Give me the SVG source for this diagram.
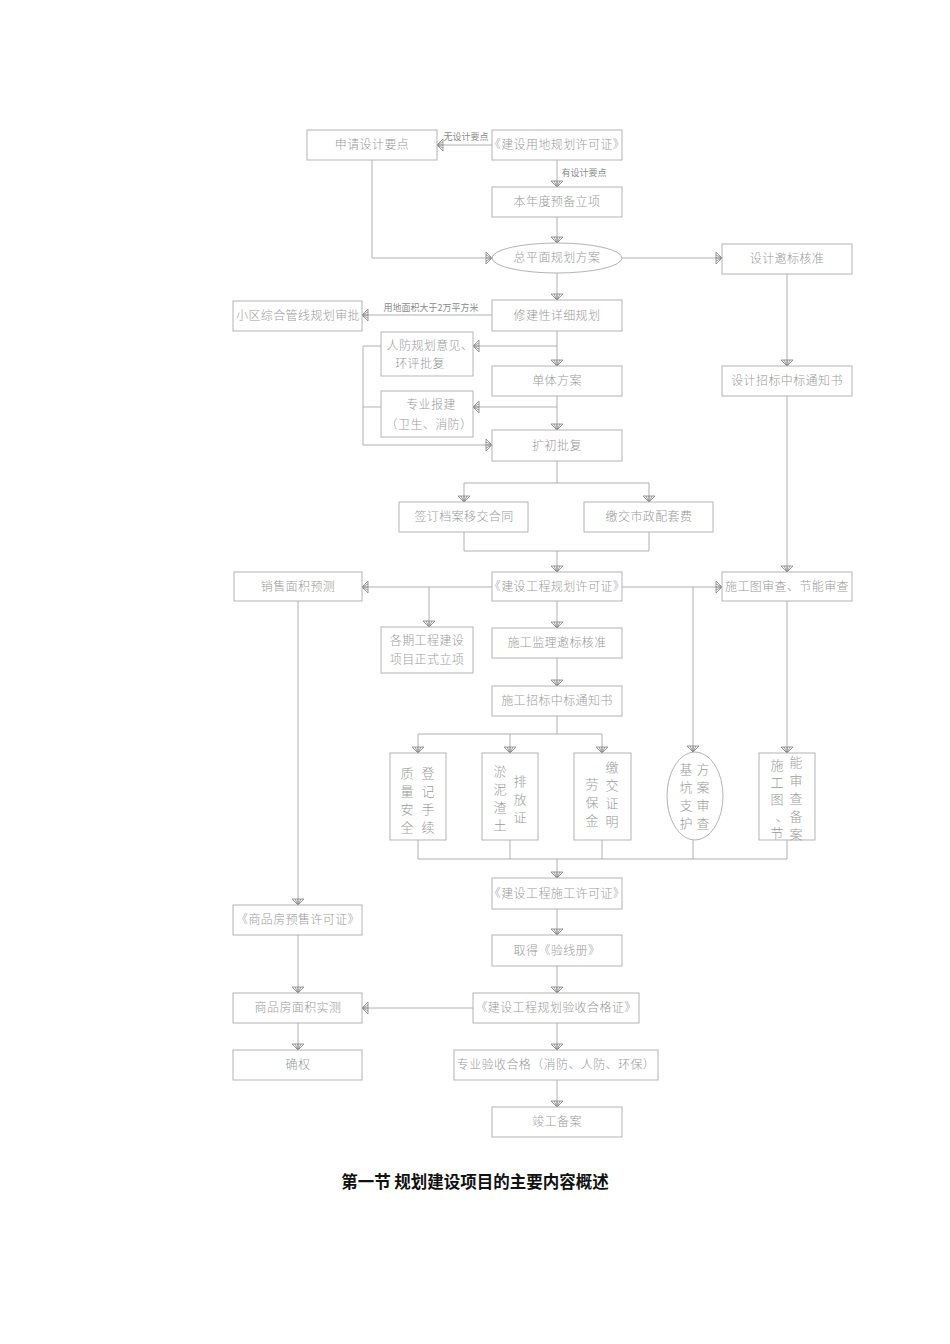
<svg xmlns="http://www.w3.org/2000/svg" width="950" height="1344" viewBox="0 0 950 1344">
<style>
.b{fill:#fff;stroke:#b4b4b4;stroke-width:1}
.t{font-family:"Noto Sans CJK SC","Liberation Sans",sans-serif;font-size:12px;letter-spacing:0.4px;fill:#9a9a9a;text-anchor:middle;font-weight:300}
.s{font-family:"Noto Sans CJK SC","Liberation Sans",sans-serif;font-size:9px;fill:#8a8a8a;text-anchor:middle}
.v{font-family:"Noto Sans CJK SC","Liberation Sans",sans-serif;font-size:13px;fill:#9a9a9a;text-anchor:middle;font-weight:300}
.c path{fill:none;stroke:#b0b0b0;stroke-width:1}
.a{marker-end:url(#ar)}
.h{font-family:"Noto Sans CJK SC","Liberation Sans",sans-serif;font-size:16.5px;font-weight:bold;fill:#111;text-anchor:middle}
</style>
<defs>
<marker id="ar" viewBox="-7 -7 8 14" refX="0" refY="0" markerWidth="8" markerHeight="14" markerUnits="userSpaceOnUse" orient="auto">
<path d="M-6,-6 L0,0 L-6,6 Z M-6,-3 L0,0 L-6,3 M-6,0 L0,0" fill="none" stroke="#808080" stroke-width="0.8"/>
</marker>
</defs>
<rect width="950" height="1344" fill="#fff"/>
<g class="c" id="connectors">
<path class="a" d="M492,145 H437"/>
<path class="a" d="M557,160 V187"/>
<path class="a" d="M557,217 V243"/>
<path class="a" d="M372,160 V258 H492"/>
<path class="a" d="M622,258 H722"/>
<path class="a" d="M557,273 V300"/>
<path class="a" d="M492,315 H362"/>
<path class="a" d="M557,331 V366"/>
<path class="a" d="M557,346 H473"/>
<path class="a" d="M557,396 V430"/>
<path class="a" d="M557,407 H473"/>
<path class="a" d="M381,346 H363 V445 H492"/>
<path d="M381,407 H363"/>
<path d="M557,461 V483 M464,483 H649"/>
<path class="a" d="M464,483 V502"/>
<path class="a" d="M649,483 V502"/>
<path d="M464,532 V551 M649,532 V551 M464,551 H649"/>
<path class="a" d="M557,551 V572"/>
<path class="a" d="M787,274 V366"/>
<path class="a" d="M787,396 V572"/>
<path class="a" d="M492,587 H362"/>
<path class="a" d="M429,587 V627"/>
<path class="a" d="M622,587 H722"/>
<path class="a" d="M693,587 V752"/>
<path class="a" d="M557,601 V628"/>
<path class="a" d="M557,658 V686"/>
<path d="M557,716 V734 M418,734 H602"/>
<path class="a" d="M418,734 V753"/>
<path class="a" d="M510,734 V753"/>
<path class="a" d="M602,734 V753"/>
<path class="a" d="M787,601 V753"/>
<path d="M418,840 V859 M510,840 V859 M602,840 V859 M693,840 V859 M787,840 V859 M418,859 H787"/>
<path class="a" d="M557,859 V878"/>
<path class="a" d="M557,909 V935"/>
<path class="a" d="M557,966 V993"/>
<path class="a" d="M298,601 V905"/>
<path class="a" d="M298,935 V993"/>
<path class="a" d="M473,1008 H362"/>
<path class="a" d="M298,1023 V1050"/>
<path class="a" d="M557,1023 V1050"/>
<path class="a" d="M557,1080 V1107"/>
<text class="s" x="466" y="140">无设计要点</text>
<text class="s" x="584" y="176">有设计要点</text>
<text class="s" x="431" y="311">用地面积大于2万平方米</text>
</g>
<g id="n1"><rect class="b" x="307" y="130" width="130" height="30"/><text class="t" x="372" y="149">申请设计要点</text></g>
<g id="n2"><rect class="b" x="492" y="130" width="130" height="30"/><text class="t" x="557" y="149">《建设用地规划许可证》</text></g>
<g id="n3"><rect class="b" x="492" y="187" width="130" height="30"/><text class="t" x="557" y="206">本年度预备立项</text></g>
<g id="n4"><ellipse class="b" cx="557" cy="258" rx="65" ry="15"/><text class="t" x="557" y="262">总平面规划方案</text></g>
<g id="n5"><rect class="b" x="722" y="244" width="130" height="30"/><text class="t" x="787" y="263">设计邀标核准</text></g>
<g id="n6"><rect class="b" x="492" y="300" width="130" height="31"/><text class="t" x="557" y="320">修建性详细规划</text></g>
<g id="n7"><rect class="b" x="233" y="301" width="129" height="30"/><text class="t" x="298" y="320">小区综合管线规划审批</text></g>
<g id="n8"><rect class="b" x="381" y="332" width="92" height="44"/><text class="t" x="430" y="350">人防规划意见、</text><text class="t" x="420" y="368">环评批复</text></g>
<g id="n9"><rect class="b" x="492" y="366" width="130" height="30"/><text class="t" x="557" y="385">单体方案</text></g>
<g id="n10"><rect class="b" x="381" y="391" width="92" height="46"/><text class="t" x="431" y="409">专业报建</text><text class="t" x="429" y="429">（卫生、消防）</text></g>
<g id="n11"><rect class="b" x="492" y="430" width="130" height="31"/><text class="t" x="557" y="450">扩初批复</text></g>
<g id="n12"><rect class="b" x="722" y="366" width="130" height="30"/><text class="t" x="787" y="385">设计招标中标通知书</text></g>
<g id="n13"><rect class="b" x="399" y="502" width="129" height="30"/><text class="t" x="464" y="521">签订档案移交合同</text></g>
<g id="n14"><rect class="b" x="584" y="502" width="129" height="30"/><text class="t" x="649" y="521">缴交市政配套费</text></g>
<g id="n15"><rect class="b" x="234" y="572" width="128" height="29"/><text class="t" x="298" y="591">销售面积预测</text></g>
<g id="n16"><rect class="b" x="492" y="572" width="130" height="29"/><text class="t" x="557" y="591">《建设工程规划许可证》</text></g>
<g id="n17"><rect class="b" x="722" y="572" width="130" height="29"/><text class="t" x="787" y="591">施工图审查、节能审查</text></g>
<g id="n18"><rect class="b" x="381" y="627" width="92" height="46"/><text class="t" x="427" y="645">各期工程建设</text><text class="t" x="427" y="664">项目正式立项</text></g>
<g id="n19"><rect class="b" x="492" y="628" width="130" height="30"/><text class="t" x="557" y="647">施工监理邀标核准</text></g>
<g id="n20"><rect class="b" x="492" y="686" width="130" height="30"/><text class="t" x="557" y="705">施工招标中标通知书</text></g>
<g id="n21"><rect class="b" x="390" y="753" width="56" height="87"/>
<text class="v" x="407" y="778">质</text><text class="v" x="407" y="796">量</text><text class="v" x="407" y="814">安</text><text class="v" x="407" y="832">全</text>
<text class="v" x="428" y="778">登</text><text class="v" x="428" y="796">记</text><text class="v" x="428" y="814">手</text><text class="v" x="428" y="832">续</text></g>
<g id="n22"><rect class="b" x="482" y="753" width="56" height="87"/>
<text class="v" x="500" y="776">淤</text><text class="v" x="500" y="794">泥</text><text class="v" x="500" y="812">渣</text><text class="v" x="500" y="830">土</text>
<text class="v" x="520" y="786">排</text><text class="v" x="520" y="804">放</text><text class="v" x="520" y="822">证</text></g>
<g id="n23"><rect class="b" x="574" y="753" width="57" height="87"/>
<text class="v" x="592" y="789">劳</text><text class="v" x="592" y="807">保</text><text class="v" x="592" y="825">金</text>
<text class="v" x="612" y="772">缴</text><text class="v" x="612" y="790">交</text><text class="v" x="612" y="808">证</text><text class="v" x="612" y="826">明</text></g>
<g id="n24"><ellipse class="b" cx="695" cy="796" rx="28" ry="44"/>
<text class="v" x="686" y="774">基</text><text class="v" x="686" y="792">坑</text><text class="v" x="686" y="810">支</text><text class="v" x="686" y="828">护</text>
<text class="v" x="703" y="774">方</text><text class="v" x="703" y="792">案</text><text class="v" x="703" y="810">审</text><text class="v" x="703" y="828">查</text></g>
<g id="n25"><rect class="b" x="759" y="753" width="56" height="87"/>
<text class="v" x="777" y="770">施</text><text class="v" x="777" y="787">工</text><text class="v" x="777" y="804">图</text><text class="v" x="782" y="821">、</text><text class="v" x="777" y="838">节</text>
<text class="v" x="796" y="767">能</text><text class="v" x="796" y="785">审</text><text class="v" x="796" y="803">查</text><text class="v" x="796" y="821">备</text><text class="v" x="796" y="839">案</text></g>
<g id="n26"><rect class="b" x="492" y="878" width="130" height="31"/><text class="t" x="557" y="898">《建设工程施工许可证》</text></g>
<g id="n27"><rect class="b" x="492" y="935" width="130" height="31"/><text class="t" x="557" y="955">取得《验线册》</text></g>
<g id="n28"><rect class="b" x="233" y="905" width="129" height="30"/><text class="t" x="298" y="924">《商品房预售许可证》</text></g>
<g id="n29"><rect class="b" x="233" y="993" width="129" height="30"/><text class="t" x="298" y="1012">商品房面积实测</text></g>
<g id="n30"><rect class="b" x="473" y="993" width="166" height="30"/><text class="t" x="556" y="1012">《建设工程规划验收合格证》</text></g>
<g id="n31"><rect class="b" x="233" y="1050" width="129" height="30"/><text class="t" x="298" y="1069">确权</text></g>
<g id="n32"><rect class="b" x="454" y="1050" width="204" height="30"/><text class="t" x="556" y="1069">专业验收合格（消防、人防、环保）</text></g>
<g id="n33"><rect class="b" x="492" y="1107" width="130" height="30"/><text class="t" x="557" y="1126">竣工备案</text></g>
<text class="h" x="475" y="1188">第一节  规划建设项目的主要内容概述</text>
</svg>
